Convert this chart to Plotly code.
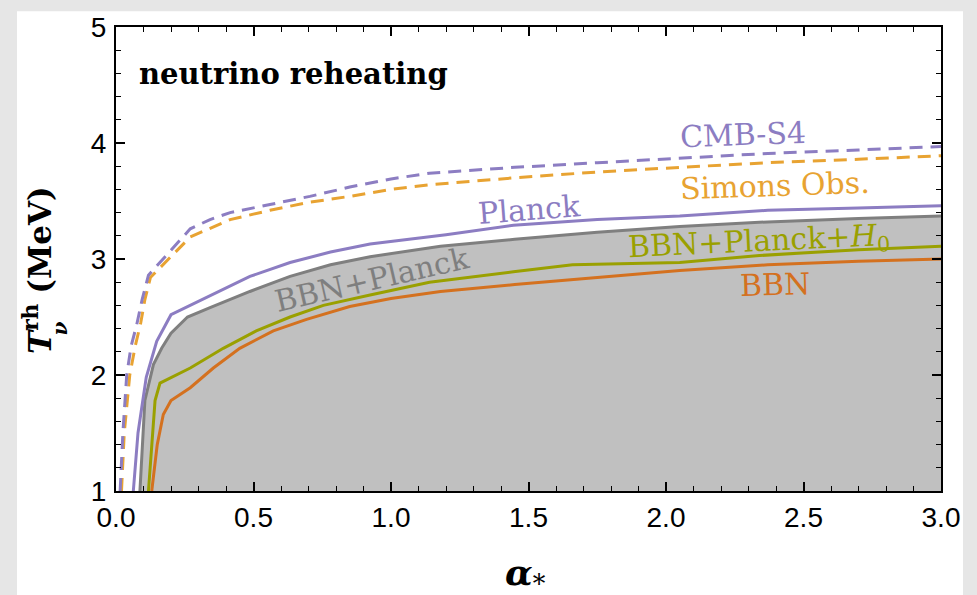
import plotly.graph_objects as go

# ---- data ----
cmb_x = [0.015, 0.025, 0.039, 0.055, 0.075, 0.095, 0.118, 0.196, 0.27, 0.342, 0.415, 0.56, 0.705, 0.85, 1.0, 1.14, 1.45, 1.75, 2.05, 2.37, 2.7, 3.0]
cmb_y = [1.0, 1.5, 2.0, 2.25, 2.43, 2.65, 2.86, 3.07, 3.26, 3.34, 3.40, 3.47, 3.54, 3.62, 3.69, 3.74, 3.79, 3.83, 3.87, 3.91, 3.94, 3.97]

so_x = [0.02, 0.03, 0.05, 0.07, 0.09, 0.105, 0.125, 0.2, 0.27, 0.415, 0.56, 0.705, 0.85, 1.0, 1.14, 1.45, 1.75, 2.05, 2.37, 2.7, 3.0]
so_y = [1.0, 1.5, 2.0, 2.25, 2.45, 2.65, 2.84, 3.02, 3.19, 3.34, 3.42, 3.49, 3.54, 3.60, 3.64, 3.70, 3.75, 3.79, 3.83, 3.86, 3.89]

planck_x = [0.063, 0.08, 0.11, 0.148, 0.2, 0.342, 0.487, 0.633, 0.78, 0.924, 1.07, 1.2, 1.445, 1.75, 2.05, 2.37, 2.7, 3.0]
planck_y = [1.0, 1.5, 1.98, 2.29, 2.52, 2.68, 2.85, 2.97, 3.06, 3.13, 3.17, 3.21, 3.29, 3.34, 3.37, 3.42, 3.44, 3.46]

bbnp_x = [0.087, 0.095, 0.105, 0.136, 0.166, 0.2, 0.26, 0.342, 0.487, 0.633, 0.78, 0.924, 1.07, 1.18, 1.45, 1.75, 2.05, 2.37, 2.7, 3.0]
bbnp_y = [1.0, 1.4, 1.78, 2.09, 2.23, 2.36, 2.50, 2.58, 2.72, 2.85, 2.95, 3.02, 3.07, 3.11, 3.17, 3.23, 3.28, 3.32, 3.35, 3.37]

bbnph0_x = [0.118, 0.13, 0.142, 0.16, 0.27, 0.39, 0.51, 0.633, 0.754, 0.924, 1.14, 1.445, 1.66, 2.05, 2.34, 2.7, 3.0]
bbnph0_y = [1.0, 1.4, 1.78, 1.93, 2.06, 2.23, 2.38, 2.50, 2.60, 2.69, 2.80, 2.89, 2.95, 2.97, 3.03, 3.08, 3.11]

bbn_x = [0.13, 0.15, 0.172, 0.2, 0.27, 0.354, 0.45, 0.572, 0.693, 0.85, 1.0, 1.18, 1.45, 1.75, 2.05, 2.37, 2.7, 3.0]
bbn_y = [1.0, 1.4, 1.66, 1.78, 1.89, 2.06, 2.23, 2.38, 2.48, 2.59, 2.66, 2.72, 2.78, 2.84, 2.90, 2.95, 2.98, 3.0]

x_ticks = [0.0, 0.5, 1.0, 1.5, 2.0, 2.5, 3.0]
y_ticks = [1, 2, 3, 4, 5]

PURPLE = "#8c7dc2"
ORANGE = "#e8a332"
OLIVE = "#9aa000"
BROWN = "#d4711f"
GRAY = "#7f7f7f"
FILL = "#c0c0c0"

fig = go.Figure()
fig.add_trace(go.Scatter(x=bbnp_x, y=bbnp_y, mode="lines", fill="tozeroy", fillcolor=FILL,
                         line=dict(color=GRAY, width=3)))
fig.add_trace(go.Scatter(x=bbn_x, y=bbn_y, mode="lines", line=dict(color=BROWN, width=3)))
fig.add_trace(go.Scatter(x=bbnph0_x, y=bbnph0_y, mode="lines", line=dict(color=OLIVE, width=3)))
fig.add_trace(go.Scatter(x=planck_x, y=planck_y, mode="lines", line=dict(color=PURPLE, width=3)))
fig.add_trace(go.Scatter(x=so_x, y=so_y, mode="lines", line=dict(color=ORANGE, width=3, dash="13px,8px")))
fig.add_trace(go.Scatter(x=cmb_x, y=cmb_y, mode="lines", line=dict(color=PURPLE, width=3, dash="13px,8px")))
# invisible trace to activate mirrored (top/right) axes carrying minor ticks
fig.add_trace(go.Scatter(x=[None], y=[None], xaxis="x2", yaxis="y2", mode="lines", hoverinfo="skip"))

SERIF = "DejaVu Serif"
labels = [
    ("CMB-S4", 2.28, 4.07, -2, PURPLE),
    ("Simons Obs.", 2.396, 3.63, -2, ORANGE),
    ("Planck", 1.502, 3.43, -4.5, PURPLE),
    ("BBN+Planck", 0.931, 2.82, -13, GRAY),
    ("BBN+Planck+<i>H</i><sub>0</sub>", 2.338, 3.145, -2.7, OLIVE),
    ("BBN", 2.396, 2.78, -1.5, BROWN),
]
for txt, lx, ly, ang, col in labels:
    fig.add_annotation(x=lx, y=ly, xref="x", yref="y", text=txt, showarrow=False,
                       xanchor="center", yanchor="middle",
                       textangle=ang, font=dict(family=SERIF, size=30, color=col))

fig.add_annotation(x=(137 - 116) / 825, y=(491 - 70) / 468, xref="paper", yref="paper",
                   xanchor="left", yanchor="middle",
                   text="<b>neutrino reheating</b>", showarrow=False,
                   font=dict(family=SERIF, size=29, color="black"))

# y-axis title
fig.add_annotation(x=(38 - 116) / 825, y=(491 - 268) / 468, xref="paper", yref="paper",
                   xanchor="center", yanchor="middle",
                   text="<b><i>T</i></b><sup><b>rh</b></sup> <b>(MeV)</b>", showarrow=False,
                   textangle=-90, font=dict(family=SERIF, size=31, color="black"))
fig.add_annotation(x=(60 - 116) / 825, y=(491 - 327) / 468, xref="paper", yref="paper",
                   xanchor="center", yanchor="middle",
                   text="<b><i>ν</i></b>", showarrow=False,
                   textangle=-90, font=dict(family=SERIF, size=20, color="black"))
# x-axis title
fig.add_annotation(x=(525 - 116) / 825, y=(491 - 576) / 468, xref="paper", yref="paper",
                   xanchor="center", yanchor="middle",
                   text="<b><i>α</i></b><sub>*</sub>", showarrow=False,
                   font=dict(family=SERIF, size=36, color="black"))

fig.add_shape(type="rect", xref="paper", yref="paper", x0=(17 - 116) / 825, x1=(963 - 116) / 825,
              y0=-0.3, y1=(491 - 7) / 468, fillcolor="white", line=dict(width=0), layer="below")

axis_common = dict(showline=True, linecolor="black", linewidth=2, mirror=True, ticks="inside",
                   ticklen=9, tickwidth=1.5, tickcolor="black", showgrid=False, zeroline=False,
                   tickfont=dict(family="Liberation Sans", size=28, color="black"))
fig.update_layout(
    xaxis=dict(range=[0, 3], tickvals=x_ticks, ticktext=[f"{v:.1f}" for v in x_ticks],
               minor=dict(dtick=0.1, tick0=0, ticks="inside", ticklen=5, tickwidth=1.2, tickcolor="black"),
               ticklabelstandoff=0, **axis_common),
    yaxis=dict(range=[1, 5], tickvals=y_ticks, ticktext=[str(v) for v in y_ticks],
               minor=dict(dtick=0.2, tick0=1, ticks="inside", ticklen=5, tickwidth=1.2, tickcolor="black"),
               ticklabelstandoff=2, **axis_common),
    xaxis2=dict(range=[0, 3], overlaying="x", side="top", tickvals=x_ticks, showticklabels=False,
                ticks="inside", ticklen=9, tickwidth=1.5, tickcolor="black", showgrid=False,
                zeroline=False, showline=False,
                minor=dict(dtick=0.1, tick0=0, ticks="inside", ticklen=5, tickwidth=1.2, tickcolor="black")),
    yaxis2=dict(range=[1, 5], overlaying="y", side="right", tickvals=y_ticks, showticklabels=False,
                ticks="inside", ticklen=9, tickwidth=1.5, tickcolor="black", showgrid=False,
                zeroline=False, showline=False,
                minor=dict(dtick=0.2, tick0=1, ticks="inside", ticklen=5, tickwidth=1.2, tickcolor="black")),
    width=977, height=595, margin=dict(l=116, r=36, t=23, b=104),
    paper_bgcolor="#e6e6e6", plot_bgcolor="white", showlegend=False,
)

fig.write_html("out.html")
